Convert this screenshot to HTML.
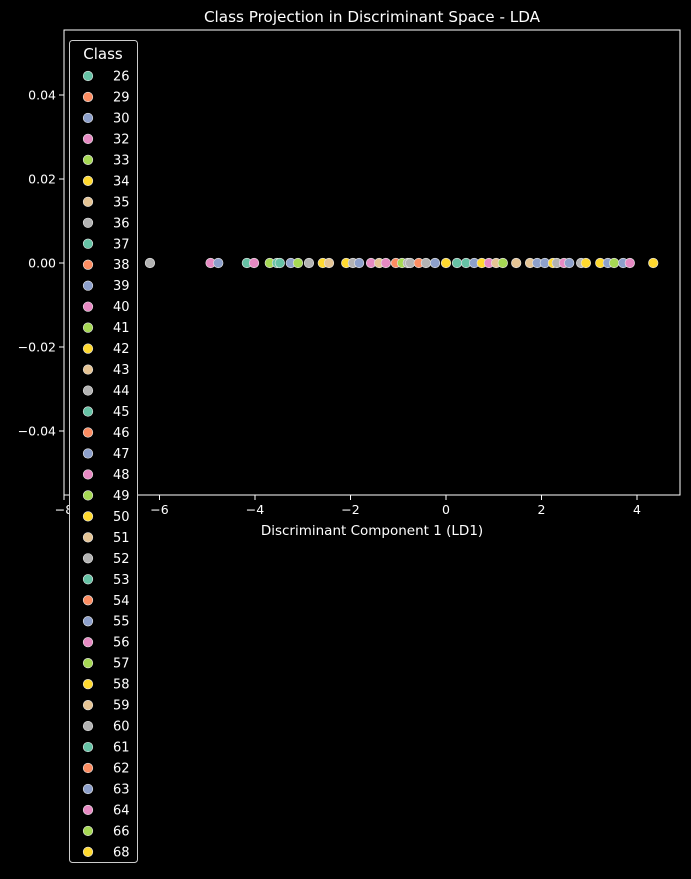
<!DOCTYPE html>
<html><head><meta charset="utf-8"><style>
html,body{margin:0;padding:0;background:#000;}
svg text{font-family:"DejaVu Sans","Liberation Sans",sans-serif;fill:#fff;}
</style></head><body>
<svg id="chart" width="691" height="874" xmlns="http://www.w3.org/2000/svg">
<rect width="691" height="874" fill="#000"/>
<text x="372" y="22" font-size="15.2" text-anchor="middle">Class Projection in Discriminant Space - LDA</text>
<rect x="64" y="30" width="616" height="465" fill="none" stroke="#fff" stroke-width="1"/>
<g id="xticks"></g>
<g id="yticks"></g>
<text x="372" y="535" font-size="13.5" text-anchor="middle">Discriminant Component 1 (LD1)</text>
<g id="points"></g>
<g id="legend"></g>
</svg>
<script>
const classes = [36,32,30,26,40,33,37,45,39,41,44,34,35,42,52,47,48,43,56,29,49,60,44,38,36,55,50,53,61,63,58,64,51,57,59,35,30,39,68,52,40,47,60,34,42,63,66,55,32,58];
const ld1 = [-6.20,-4.93,-4.77,-4.17,-4.02,-3.69,-3.54,-3.48,-3.25,-3.10,-2.87,-2.58,-2.45,-2.09,-1.95,-1.82,-1.57,-1.40,-1.26,-1.05,-0.92,-0.80,-0.75,-0.57,-0.42,-0.23,0.00,0.23,0.42,0.59,0.75,0.90,1.05,1.19,1.47,1.76,1.91,2.07,2.24,2.32,2.47,2.58,2.83,2.93,3.23,3.39,3.52,3.71,3.85,4.34];
const legendClasses = [26,29,30,32,33,34,35,36,37,38,39,40,41,42,43,44,45,46,47,48,49,50,51,52,53,54,55,56,57,58,59,60,61,62,63,64,66,68];
const xTicks = [-8,-6,-4,-2,0,2,4];
const yTicks = [0.04,0.02,0.00,-0.02,-0.04];
const palette = ["#66c2a5","#fc8d62","#8da0cb","#e78ac3","#a6d854","#ffd92f","#e5c494","#b3b3b3"];
const NS="http://www.w3.org/2000/svg";
function xs(v){return 446+v*47.75;}
function ys(v){return 263-v*4200;}
function colorOf(c){return palette[legendClasses.indexOf(c)%8];}
function mk(tag,attrs,parent){const e=document.createElementNS(NS,tag);for(const k in attrs)e.setAttribute(k,attrs[k]);parent.appendChild(e);return e;}
const xg=document.getElementById('xticks'),yg=document.getElementById('yticks'),pg=document.getElementById('points'),lg=document.getElementById('legend');
xTicks.forEach(t=>{const x=xs(t);
 const l=mk('line',{x1:x,x2:x,y1:495,y2:500,stroke:'#fff'},xg);
 
 
 const tx=mk('text',{x:x,y:514,'font-size':12.5,'text-anchor':'middle'},xg);tx.textContent=(t<0?'\u2212'+(-t):t);
 
 });
yTicks.forEach(t=>{const y=ys(t);
 const l=mk('line',{x1:59,x2:64,y1:y,y2:y,stroke:'#fff'},yg);
 
 
 const s=Math.abs(t).toFixed(2);
 const tx=mk('text',{x:56,y:y+4.5,'font-size':12.5,'text-anchor':'end'},yg);tx.textContent=(t<0?'\u2212'+s:s);
 
 });
ld1.forEach((v,i)=>{const c=mk('circle',{cx:xs(v),cy:ys(0),r:4.8,fill:colorOf(classes[i]),stroke:'#e8e8e8','stroke-width':0.6},pg);
 
 });
const box=mk('rect',{x:69.5,y:40.5,width:68,height:822,rx:3,fill:'#000',stroke:'#ccc','stroke-width':1},lg);


const lt=mk('text',{x:103,y:59,'font-size':15,'text-anchor':'middle'},lg);lt.textContent='Class';


legendClasses.forEach((c,i)=>{const y=76+i*20.97;
 const g=mk('g',{},lg);
 
 
 mk('circle',{cx:88,cy:y,r:4.8,fill:palette[i%8],stroke:'#e8e8e8','stroke-width':0.6},g);
 const t=mk('text',{x:113,y:y+4.5,'font-size':13},g);t.textContent=c;});
</script>
</body></html>
